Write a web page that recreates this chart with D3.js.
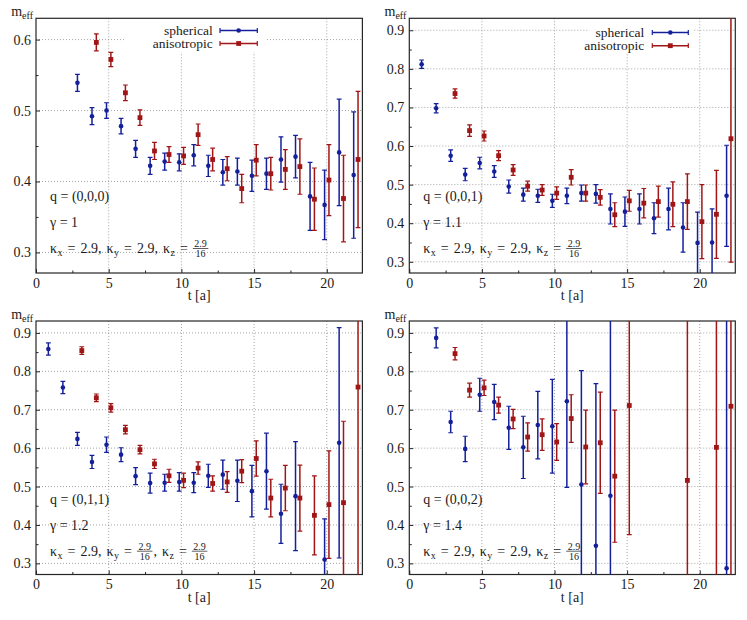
<!DOCTYPE html>
<html>
<head>
<meta charset="utf-8">
<script src="https://cdn.jsdelivr.net/npm/d3@7"></script>
<style>
  body { margin: 0; background: #ffffff; }
  svg text { font-family: "Liberation Serif", "DejaVu Serif", serif !important; fill: #1a1a1a; }
</style>
</head>
<body>
<div id="chart"></div>
<script>
// Effective mass m_eff(t) for spherical vs anisotropic smearing,
// four panels for different momenta q and anisotropy gamma

//////////////////////////////////////////////////////////////////////
// data: [t, m_eff, error]

var xTicks = [0, 5, 10, 15, 20];
var xMinor = [2.5, 7.5, 12.5, 17.5];
var yTicksTop = [0.3, 0.4, 0.5, 0.6];
var yMinorTop = [0.35, 0.45, 0.55];
var yTicksAll = [0.3, 0.4, 0.5, 0.6, 0.7, 0.8, 0.9];
var yMinorAll = [0.35, 0.45, 0.55, 0.65, 0.75, 0.85];

var seriesNames = ["spherical", "anisotropic"];

var qLabels = ["q = (0,0,0)", "q = (0,0,1)", "q = (0,1,1)", "q = (0,0,2)"];
var gammaLabels = ["γ = 1", "γ = 1.1", "γ = 1.2", "γ = 1.4"];
// kappa_x, kappa_y, kappa_z for each panel ("a/b" is drawn as a fraction)
var kappaValues = [
    ["2.9", "2.9", "2.9/16"],
    ["2.9", "2.9", "2.9/16"],
    ["2.9", "2.9/16", "2.9/16"],
    ["2.9", "2.9", "2.9/16"]
];

var sph000 = [
    [3, 0.539, 0.012], [4, 0.492, 0.012], [5, 0.500, 0.011], [6, 0.478, 0.011],
    [7, 0.446, 0.012], [8, 0.422, 0.012], [9, 0.428, 0.012], [10, 0.427, 0.012],
    [11, 0.437, 0.015], [12, 0.422, 0.015], [13, 0.413, 0.018], [14, 0.414, 0.019],
    [15, 0.408, 0.022], [16, 0.411, 0.022], [17, 0.431, 0.032], [18, 0.435, 0.030],
    [19, 0.379, 0.048], [20, 0.367, 0.049], [21, 0.441, 0.075], [22, 0.409, 0.089]
];
var ani000 = [
    [4, 0.596, 0.012], [5, 0.572, 0.010], [6, 0.525, 0.011], [7, 0.490, 0.011],
    [8, 0.443, 0.012], [9, 0.438, 0.011], [10, 0.436, 0.012], [11, 0.466, 0.015],
    [12, 0.431, 0.016], [13, 0.418, 0.017], [14, 0.390, 0.020], [15, 0.430, 0.022],
    [16, 0.411, 0.023], [17, 0.417, 0.028], [18, 0.421, 0.039], [19, 0.375, 0.044],
    [20, 0.402, 0.050], [21, 0.376, 0.061], [22, 0.431, 0.096]
];

var sph001 = [
    [1, 0.812, 0.011], [2, 0.698, 0.012], [3, 0.575, 0.015], [4, 0.526, 0.016],
    [5, 0.556, 0.015], [6, 0.534, 0.015], [7, 0.495, 0.017], [8, 0.474, 0.017],
    [9, 0.471, 0.017], [10, 0.458, 0.017], [11, 0.471, 0.020], [12, 0.478, 0.021],
    [13, 0.476, 0.024], [14, 0.437, 0.039], [15, 0.430, 0.038], [16, 0.437, 0.039],
    [17, 0.413, 0.040], [18, 0.437, 0.054], [19, 0.389, 0.064], [20, 0.349, 0.080],
    [21, 0.350, 0.087], [22, 0.471, 0.131]
];
var ani001 = [
    [3, 0.736, 0.012], [4, 0.640, 0.015], [5, 0.626, 0.013], [6, 0.575, 0.013],
    [7, 0.538, 0.014], [8, 0.496, 0.013], [9, 0.486, 0.014], [10, 0.478, 0.016],
    [11, 0.519, 0.020], [12, 0.478, 0.021], [13, 0.467, 0.020], [14, 0.422, 0.031],
    [15, 0.458, 0.027], [16, 0.452, 0.038], [17, 0.456, 0.040], [18, 0.449, 0.058],
    [19, 0.456, 0.072], [20, 0.404, 0.096], [21, 0.423, 0.114], [22, 0.619, 0.320]
];

var sph011 = [
    [1, 0.858, 0.016], [2, 0.758, 0.016], [3, 0.624, 0.017], [4, 0.564, 0.017],
    [5, 0.609, 0.020], [6, 0.583, 0.018], [7, 0.527, 0.022], [8, 0.509, 0.026],
    [9, 0.510, 0.022], [10, 0.512, 0.024], [11, 0.510, 0.026], [12, 0.528, 0.030],
    [13, 0.531, 0.038], [14, 0.515, 0.054], [15, 0.488, 0.067], [16, 0.540, 0.099],
    [17, 0.429, 0.077], [18, 0.475, 0.142], [20, 0.310, 0.106], [21, 0.614, 0.300]
];
var ani011 = [
    [3, 0.854, 0.010], [4, 0.731, 0.010], [5, 0.705, 0.011], [6, 0.648, 0.011],
    [7, 0.596, 0.011], [8, 0.559, 0.012], [9, 0.528, 0.017], [10, 0.516, 0.019],
    [11, 0.548, 0.016], [12, 0.508, 0.020], [13, 0.512, 0.027], [14, 0.540, 0.030],
    [15, 0.573, 0.046], [16, 0.470, 0.049], [17, 0.496, 0.059], [18, 0.470, 0.086],
    [19, 0.425, 0.103], [20, 0.453, 0.140], [21, 0.458, 0.212], [22, 0.759, 0.520]
];

var sph002 = [
    [2, 0.887, 0.026], [3, 0.668, 0.028], [4, 0.598, 0.033], [5, 0.739, 0.043],
    [6, 0.720, 0.046], [7, 0.653, 0.056], [8, 0.602, 0.081], [9, 0.660, 0.088],
    [10, 0.657, 0.122], [11, 0.722, 0.224], [12, 0.505, 0.297], [13, 0.346, 0.422],
    [14, 0.476, 0.520], [22, 0.287, 0.700]
];
var ani002 = [
    [3, 0.846, 0.016], [4, 0.751, 0.018], [5, 0.757, 0.020], [6, 0.712, 0.021],
    [7, 0.676, 0.025], [8, 0.629, 0.037], [9, 0.635, 0.041], [10, 0.616, 0.048],
    [11, 0.677, 0.062], [12, 0.603, 0.096], [13, 0.614, 0.132], [14, 0.527, 0.172],
    [15, 0.711, 0.336], [19, 0.516, 0.520], [21, 0.602, 0.520], [22, 0.709, 0.520]
];

//////////////////////////////////////////////////////////////////////
// layout and style (namespace for globals)

var myNS = {};
myNS.width = 747;
myNS.height = 620;
myNS.xDomain = [0, 22.45];
myNS.blue = "#14209a";
myNS.red = "#a01616";
myNS.shift = 0.15;     // blue drawn at t - shift, red at t + shift
myNS.fontSize = 14;
myNS.font = "'Liberation Serif', 'DejaVu Serif', serif";

// one entry per panel: frame position, y range, legend placement
myNS.panels = [
    { left: 36, top: 18.3, width: 326.4, height: 254.7, yDomain: [0.271, 0.63],
      yTicks: yTicksTop, yMinor: yMinorTop, sph: sph000, ani: ani000,
      legend: { textRight: 176.7, rows: [12.2, 25.2], x1: 184, x2: 221.3, box: [89, 0.6, 142, 33] } },
    { left: 409.3, top: 18.3, width: 326, height: 254.7, yDomain: [0.271, 0.931],
      yTicks: yTicksAll, yMinor: yMinorAll, sph: sph001, ani: ani001,
      legend: { textRight: 235, rows: [14.2, 27.4], x1: 243, x2: 279, box: [180, 0.6, 104, 34] } },
    { left: 36, top: 321, width: 326.4, height: 253.5, yDomain: [0.271, 0.931],
      yTicks: yTicksAll, yMinor: yMinorAll, sph: sph011, ani: ani011, legend: null },
    { left: 409.3, top: 321, width: 326, height: 253.5, yDomain: [0.271, 0.931],
      yTicks: yTicksAll, yMinor: yMinorAll, sph: sph002, ani: ani002, legend: null }
];

var svg = d3.select("#chart")
    .append("svg")
    .attr("width", myNS.width)
    .attr("height", myNS.height)
    .attr("font-family", myNS.font);

var defs = svg.append("defs");

myNS.panels.forEach(function(p, i) {
    drawPanel(p, i);
});

//////////////////////////////////////////////////////////////////////
// one panel

function drawPanel(p, i) {

    var g = svg.append("g")
        .attr("transform", "translate(" + p.left + "," + p.top + ")");

    var xScale = d3.scaleLinear().domain(myNS.xDomain).range([0, p.width]);
    var yScale = d3.scaleLinear().domain(p.yDomain).range([p.height, 0]);

    // dotted grid
    var grid = g.append("g")
        .attr("stroke", "#8e8e8e")
        .attr("stroke-width", 0.8)
        .attr("stroke-dasharray", "1,2");
    grid.selectAll(".vgrid")
        .data(xTicks.filter(function(d) { return d > 0; }))
        .enter().append("line")
        .attr("x1", function(d) { return xScale(d); })
        .attr("x2", function(d) { return xScale(d); })
        .attr("y1", 0)
        .attr("y2", p.height);
    grid.selectAll(".hgrid")
        .data(p.yTicks)
        .enter().append("line")
        .attr("x1", 0)
        .attr("x2", p.width)
        .attr("y1", function(d) { return yScale(d); })
        .attr("y2", function(d) { return yScale(d); });

    // white patch behind the legend
    if (p.legend) {
        g.append("rect")
            .attr("x", p.legend.box[0])
            .attr("y", p.legend.box[1])
            .attr("width", p.legend.box[2])
            .attr("height", p.legend.box[3])
            .attr("fill", "#ffffff");
    }

    // axes, ticks pointing inwards
    var xAxis = d3.axisBottom(xScale).tickValues(xTicks).tickSize(-4).tickPadding(5);
    var xAxisMinor = d3.axisBottom(xScale).tickValues(xMinor).tickSize(-2.5).tickFormat("");
    var yAxis = d3.axisLeft(yScale).tickValues(p.yTicks).tickSize(-4).tickPadding(5)
        .tickFormat(d3.format(".1f"));
    var yAxisMinor = d3.axisLeft(yScale).tickValues(p.yMinor).tickSize(-2.5).tickFormat("");

    [xAxis, xAxisMinor].forEach(function(ax) {
        g.append("g")
            .attr("transform", "translate(0," + p.height + ")")
            .call(ax)
            .call(styleAxis);
    });
    [yAxis, yAxisMinor].forEach(function(ax) {
        g.append("g")
            .call(ax)
            .call(styleAxis);
    });

    // frame
    g.append("rect")
        .attr("width", p.width)
        .attr("height", p.height)
        .attr("fill", "none")
        .attr("stroke", "#262626")
        .attr("stroke-width", 1.2);

    // data, clipped to the frame
    defs.append("clipPath")
        .attr("id", "clip" + i)
        .append("rect")
        .attr("width", p.width)
        .attr("height", p.height);
    var data = g.append("g").attr("clip-path", "url(#clip" + i + ")");
    drawSeries(data, p.sph, xScale, yScale, myNS.blue, -myNS.shift, "circle");
    drawSeries(data, p.ani, xScale, yScale, myNS.red, myNS.shift, "square");

    // legend
    if (p.legend) {
        makeLegend(g, p.legend);
    }

    // axis labels
    var ylab = label(g, -3, -2.5, "", myNS.fontSize).attr("text-anchor", "end");
    ylab.append("tspan").text("m");
    ylab.append("tspan").attr("font-size", 10).attr("dy", 3).text("eff");

    label(g, p.width / 2, p.height + 27, "t [a]", myNS.fontSize)
        .attr("text-anchor", "middle");

    // parameter annotations
    label(g, 14, 183, qLabels[i], myNS.fontSize);
    label(g, 14, 208.6, gammaLabels[i], myNS.fontSize);
    drawKappa(g, kappaValues[i], 14, 234.5);
}

function label(g, x, y, str, size) {
    return g.append("text")
        .attr("x", x)
        .attr("y", y)
        .attr("font-size", size)
        .style("font-family", myNS.font)
        .text(str);
}

function styleAxis(sel) {
    sel.attr("font-family", myNS.font);
    sel.select(".domain").remove();
    sel.selectAll(".tick line").attr("stroke", "#262626").attr("stroke-width", 1);
    sel.selectAll(".tick text")
        .attr("fill", "#1a1a1a")
        .attr("font-size", myNS.fontSize)
        .style("font-family", myNS.font);
}

// error bars plus marker for one series
function drawSeries(g, rows, xScale, yScale, color, shift, marker) {
    var cap = 2.4;
    var pts = g.append("g")
        .selectAll("g")
        .data(rows)
        .enter().append("g")
        .attr("stroke", color)
        .attr("fill", color);

    pts.append("line")
        .attr("x1", function(d) { return xScale(d[0] + shift); })
        .attr("x2", function(d) { return xScale(d[0] + shift); })
        .attr("y1", function(d) { return yScale(d[1] - d[2]); })
        .attr("y2", function(d) { return yScale(d[1] + d[2]); })
        .attr("stroke-width", 1.5);

    [-1, 1].forEach(function(sign) {
        pts.append("line")
            .attr("x1", function(d) { return xScale(d[0] + shift) - cap; })
            .attr("x2", function(d) { return xScale(d[0] + shift) + cap; })
            .attr("y1", function(d) { return yScale(d[1] + sign * d[2]); })
            .attr("y2", function(d) { return yScale(d[1] + sign * d[2]); })
            .attr("stroke-width", 1.2);
    });

    if (marker == "circle") {
        pts.append("circle")
            .attr("cx", function(d) { return xScale(d[0] + shift); })
            .attr("cy", function(d) { return yScale(d[1]); })
            .attr("r", 2.3)
            .attr("stroke", "none");
    } else {
        pts.append("rect")
            .attr("x", function(d) { return xScale(d[0] + shift) - 2.4; })
            .attr("y", function(d) { return yScale(d[1]) - 2.4; })
            .attr("width", 4.8)
            .attr("height", 4.8)
            .attr("stroke", "none");
    }
}

function makeLegend(g, L) {
    var colors = [myNS.blue, myNS.red];
    seriesNames.forEach(function(name, k) {
        var yy = L.rows[k];
        label(g, L.textRight, yy, name, 13.5)
            .attr("dy", "0.32em")
            .attr("text-anchor", "end");
        var row = g.append("g").attr("stroke", colors[k]).attr("fill", colors[k]);
        row.append("line")
            .attr("x1", L.x1).attr("x2", L.x2)
            .attr("y1", yy).attr("y2", yy)
            .attr("stroke-width", 1.5);
        [L.x1, L.x2].forEach(function(xx) {
            row.append("line")
                .attr("x1", xx).attr("x2", xx)
                .attr("y1", yy - 2.4).attr("y2", yy + 2.4)
                .attr("stroke-width", 1.2);
        });
        var mid = (L.x1 + L.x2) / 2;
        if (k == 0) {
            row.append("circle").attr("cx", mid).attr("cy", yy).attr("r", 2.3).attr("stroke", "none");
        } else {
            row.append("rect").attr("x", mid - 2.4).attr("y", yy - 2.4)
                .attr("width", 4.8).attr("height", 4.8).attr("stroke", "none");
        }
    });
}

// "κx = .., κy = .., κz = .." with subscripts and stacked fractions
function drawKappa(g, vals, x0, base) {
    var cx = x0;
    var subs = ["x", "y", "z"];
    var gapEq = 5;      // space around "="
    var gapComma = 5;   // space after ","

    function piece(str, xx, yy, size) {
        var t = label(g, xx, yy, str, size);
        return t.node().getComputedTextLength();
    }

    subs.forEach(function(s, k) {
        cx += piece("κ", cx, base, myNS.fontSize) + 0.5;
        cx += piece(s, cx, base + 3.5, 10);
        cx += gapEq;
        cx += piece("=", cx, base, myNS.fontSize);
        cx += gapEq;
        var v = vals[k];
        if (v.indexOf("/") >= 0) {
            var parts = v.split("/");
            var tmp = label(g, 0, 0, parts[0], 10);
            var wNum = tmp.node().getComputedTextLength();
            tmp.text(parts[1]);
            var wDen = tmp.node().getComputedTextLength();
            tmp.remove();
            var w = Math.max(wNum, wDen) + 3;
            g.append("line")
                .attr("x1", cx).attr("x2", cx + w)
                .attr("y1", base - 4.3).attr("y2", base - 4.3)
                .attr("stroke", "#1a1a1a")
                .attr("stroke-width", 0.7);
            label(g, cx + w / 2, base - 6, parts[0], 10).attr("text-anchor", "middle");
            label(g, cx + w / 2, base + 4.5, parts[1], 10).attr("text-anchor", "middle");
            cx += w + 1;
        } else {
            cx += piece(v, cx, base, myNS.fontSize);
        }
        if (k < subs.length - 1) {
            cx += piece(",", cx, base, myNS.fontSize);
            cx += gapComma;
        }
    });
}
</script>
</body>
</html>
